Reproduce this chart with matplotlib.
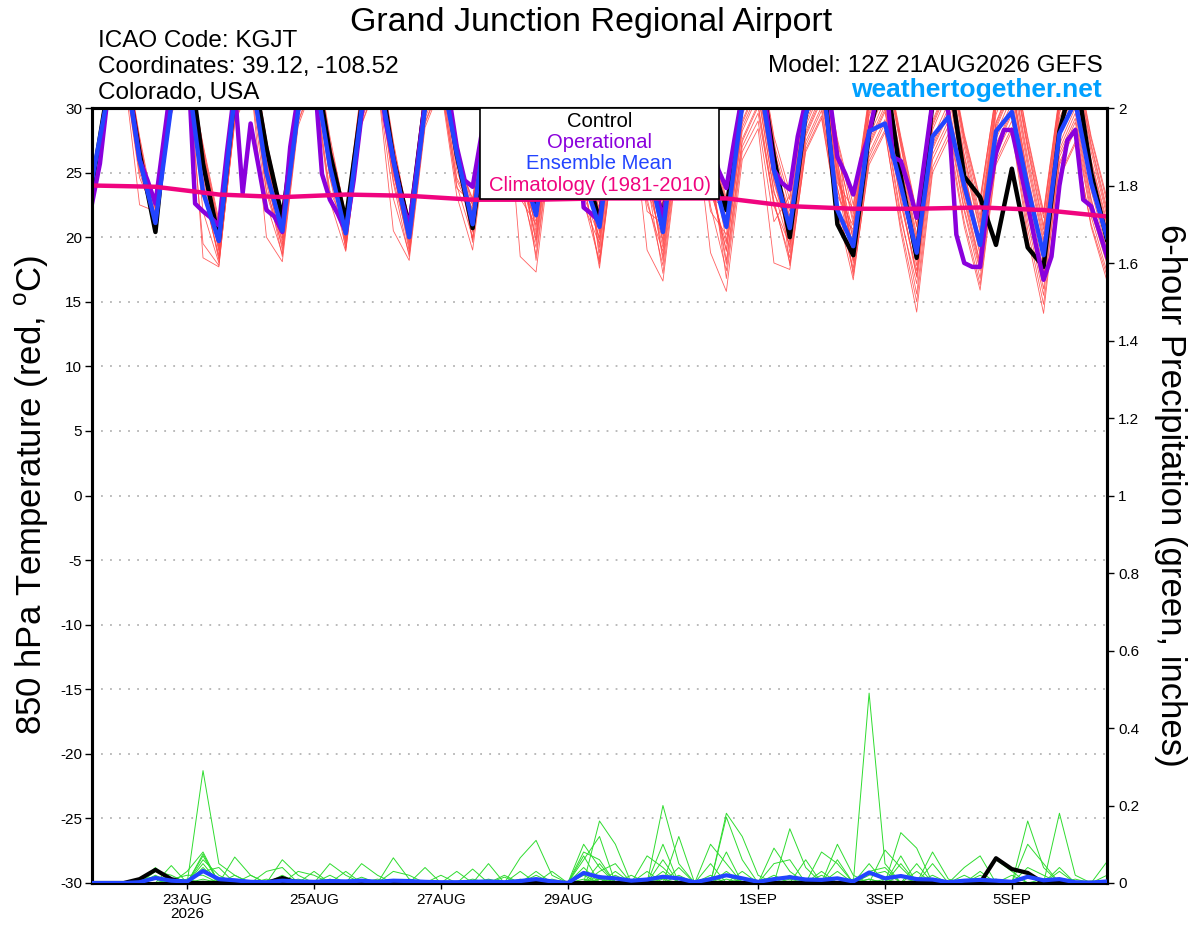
import numpy as np
import pandas as pd
import matplotlib
matplotlib.use('Agg')
import matplotlib.pyplot as plt
import matplotlib.dates as mdates
from matplotlib.patches import Rectangle
from matplotlib.ticker import FuncFormatter

plt.rcParams['font.family'] = ['Liberation Sans', 'DejaVu Sans']
plt.rcParams['mathtext.fontset'] = 'custom'
plt.rcParams['mathtext.rm'] = 'Liberation Sans'
plt.rcParams['axes.unicode_minus'] = False

# 6-hourly GEFS steps from 12Z 21AUG2026, operational run is 3-hourly
times = pd.date_range('2026-08-21 12:00', periods=65, freq='6h').to_pydatetime()
op_times = pd.date_range('2026-08-21 12:00', periods=129, freq='3h').to_pydatetime()
clim_times = times[::4]

tick_dates = ['2026-08-23', '2026-08-25', '2026-08-27', '2026-08-29',
              '2026-09-01', '2026-09-03', '2026-09-05']
tick_labels = ['23AUG\n2026', '25AUG', '27AUG', '29AUG', '1SEP', '3SEP', '5SEP']

# ensemble member 850 hPa temps (20 members), one row per day and synoptic hour
temp_12z = [
    [24.0, 24.5, 23.8, 24.6, 24.2, 24.9, 23.6, 24.3, 24.1, 24.7, 23.9, 24.4, 24.8, 24.0, 23.7, 24.5, 24.2, 24.6, 23.9, 24.3],
    [21.0, 20.5, 21.8, 22.3, 20.9, 21.4, 22.0, 20.8, 21.2, 22.5, 21.6, 20.6, 21.3, 22.1, 21.0, 20.4, 21.7, 22.2, 21.1, 20.9],
    [19.5, 18.2, 20.4, 19.0, 17.8, 21.0, 19.8, 18.6, 20.8, 19.2, 18.0, 20.1, 19.6, 17.7, 21.3, 18.9, 19.9, 20.5, 18.4, 19.3],
    [20.2, 19.0, 21.4, 20.6, 18.1, 21.8, 20.0, 19.5, 21.0, 20.8, 18.7, 20.4, 21.6, 19.8, 20.9, 18.5, 20.3, 21.2, 19.3, 20.7],
    [20.0, 19.2, 21.0, 20.6, 18.9, 21.6, 19.6, 20.3, 21.3, 19.9, 20.8, 19.4, 21.8, 20.1, 19.0, 20.5, 21.1, 19.7, 20.9, 20.2],
    [19.8, 18.5, 20.6, 21.2, 18.2, 20.3, 19.4, 21.5, 20.0, 18.9, 20.8, 19.6, 21.0, 20.2, 18.7, 19.9, 21.3, 20.5, 19.1, 20.4],
    [21.2, 20.0, 22.4, 21.0, 19.0, 22.8, 21.5, 20.6, 23.0, 21.8, 19.6, 22.0, 20.8, 21.4, 22.6, 19.8, 21.6, 20.4, 22.2, 21.1],
    [21.5, 19.8, 22.6, 17.3, 21.0, 23.2, 20.4, 18.6, 22.0, 21.8, 19.2, 22.8, 20.8, 23.5, 18.2, 21.2, 22.3, 20.1, 21.6, 19.6],
    [20.8, 17.6, 21.9, 19.5, 22.6, 18.3, 21.2, 20.0, 23.0, 18.8, 21.6, 19.2, 22.2, 20.5, 18.1, 21.0, 22.8, 19.8, 20.3, 17.9],
    [20.3, 16.6, 21.8, 19.2, 22.5, 17.8, 20.8, 18.5, 21.4, 19.8, 22.9, 17.2, 20.6, 21.6, 18.9, 22.2, 19.5, 20.1, 18.2, 21.0],
    [20.6, 15.8, 22.0, 18.9, 23.0, 17.4, 21.3, 19.5, 22.6, 18.2, 21.8, 20.2, 16.8, 22.8, 19.0, 21.0, 17.9, 20.8, 22.3, 19.7],
    [20.5, 17.5, 22.3, 19.2, 23.5, 18.4, 21.6, 20.0, 22.9, 18.0, 21.0, 19.6, 23.2, 17.8, 20.8, 22.0, 19.4, 21.4, 18.8, 20.2],
    [19.0, 16.7, 21.0, 18.2, 22.5, 17.3, 20.2, 18.8, 21.8, 17.6, 19.8, 22.2, 18.5, 20.6, 17.0, 21.4, 19.4, 18.0, 20.9, 19.9],
    [18.6, 14.2, 20.8, 17.0, 22.0, 15.6, 19.6, 17.8, 21.4, 16.4, 19.0, 21.8, 17.4, 20.2, 15.0, 20.9, 18.2, 16.9, 19.8, 18.9],
    [19.2, 15.9, 21.2, 18.0, 23.0, 16.8, 20.4, 18.6, 22.4, 17.4, 19.8, 22.8, 17.9, 21.0, 16.3, 21.6, 18.8, 17.6, 20.6, 19.5],
    [18.4, 14.1, 20.6, 16.8, 22.0, 15.5, 19.5, 17.5, 21.5, 16.0, 18.9, 21.8, 17.2, 20.2, 14.8, 20.9, 18.0, 16.6, 19.8, 18.7],
    [19.8, 16.6, 21.6, 18.4, 23.0, 17.3, 20.6, 19.0, 22.2, 17.9, 20.2, 22.7, 18.6, 21.2, 17.0, 21.9, 19.4, 18.1, 20.9, 19.6],
]
temp_18z = [
    [31.5, 32.0, 30.8, 31.8, 32.4, 31.2, 30.5, 32.1, 31.6, 31.0, 32.6, 31.3, 30.9, 31.9, 32.2, 31.4, 30.7, 31.7, 32.3, 31.1],
    [31.0, 30.2, 31.8, 32.2, 29.8, 31.4, 32.5, 30.6, 31.2, 32.0, 30.9, 29.5, 31.6, 32.3, 30.4, 31.1, 31.9, 30.8, 32.4, 30.0],
    [30.5, 29.6, 31.5, 30.2, 29.0, 32.0, 30.9, 29.8, 31.6, 30.4, 28.8, 31.2, 30.7, 29.2, 31.8, 30.1, 31.0, 31.4, 29.5, 30.6],
    [30.8, 29.4, 31.6, 30.5, 28.6, 32.1, 30.2, 29.9, 31.3, 30.7, 29.0, 31.0, 31.9, 30.0, 31.5, 28.9, 30.4, 31.7, 29.7, 30.9],
    [30.2, 29.1, 31.0, 30.6, 28.8, 31.6, 29.6, 30.4, 31.2, 29.9, 30.8, 29.3, 31.8, 30.1, 28.7, 30.5, 31.3, 29.7, 30.9, 30.3],
    [30.4, 28.9, 31.1, 31.5, 28.5, 30.8, 29.8, 31.7, 30.3, 29.2, 31.0, 30.0, 31.4, 30.6, 28.8, 30.2, 31.6, 30.9, 29.5, 30.7],
    [30.6, 29.5, 31.4, 30.3, 28.6, 31.8, 30.9, 29.9, 32.0, 31.1, 29.0, 31.3, 30.1, 30.7, 31.6, 29.3, 31.0, 29.8, 31.5, 30.4],
    [30.8, 29.0, 31.6, 27.5, 30.2, 32.0, 29.6, 28.2, 31.2, 30.9, 28.6, 31.8, 30.0, 32.2, 27.9, 30.5, 31.4, 29.4, 30.7, 28.8],
    [30.4, 27.6, 31.2, 29.2, 31.8, 28.0, 30.6, 29.8, 32.0, 28.6, 31.0, 29.0, 31.5, 30.1, 27.8, 30.7, 31.9, 29.5, 30.2, 27.4],
    [30.2, 26.8, 31.3, 28.9, 31.8, 27.6, 30.5, 28.3, 31.0, 29.6, 32.0, 27.2, 30.3, 31.2, 28.6, 31.6, 29.3, 30.0, 28.0, 30.8],
    [30.0, 26.0, 31.0, 28.2, 31.9, 27.0, 30.4, 28.8, 31.5, 27.6, 30.9, 29.5, 26.6, 31.7, 28.5, 30.6, 27.4, 30.2, 31.3, 29.0],
    [29.6, 26.8, 30.8, 28.2, 31.5, 27.4, 30.1, 28.9, 31.2, 27.1, 29.8, 28.6, 31.0, 26.6, 29.9, 30.6, 28.0, 30.4, 27.8, 29.2],
    [28.6, 25.9, 30.2, 27.4, 31.0, 26.5, 29.4, 27.8, 30.6, 26.2, 28.9, 30.8, 27.0, 29.8, 25.6, 30.4, 28.2, 27.2, 29.6, 28.4],
    [29.0, 25.0, 30.6, 27.2, 31.2, 26.0, 29.6, 27.6, 30.9, 26.4, 28.8, 31.0, 27.0, 30.2, 25.4, 30.7, 28.3, 26.8, 29.8, 28.6],
    [28.8, 25.6, 30.4, 27.6, 31.0, 26.4, 29.5, 28.0, 30.8, 26.8, 28.9, 31.2, 27.2, 30.0, 25.9, 30.6, 28.4, 27.0, 29.9, 28.6],
    [28.4, 24.8, 30.2, 26.8, 31.0, 25.6, 29.2, 27.2, 30.6, 25.8, 28.6, 30.8, 26.5, 29.8, 24.6, 30.4, 27.9, 26.2, 29.6, 28.0],
]
temp_00z = [
    [34.0, 34.5, 33.2, 34.2, 34.8, 33.8, 33.0, 34.6, 34.1, 33.5, 35.0, 33.9, 33.4, 34.3, 34.7, 33.9, 33.1, 34.4, 34.9, 33.6],
    [34.2, 33.4, 34.8, 35.0, 33.0, 34.5, 35.2, 33.8, 34.3, 34.9, 33.9, 32.8, 34.6, 35.1, 33.5, 34.1, 34.7, 33.9, 35.3, 33.2],
    [33.6, 32.9, 34.6, 33.5, 32.2, 35.0, 34.0, 33.1, 34.7, 33.6, 32.0, 34.3, 33.9, 32.5, 34.9, 33.3, 34.1, 34.5, 32.8, 33.8],
    [34.0, 32.8, 34.8, 33.7, 32.0, 35.2, 33.4, 33.1, 34.4, 33.9, 32.3, 34.1, 35.0, 33.2, 34.6, 32.2, 33.6, 34.9, 32.9, 34.0],
    [33.5, 32.4, 34.2, 33.8, 32.1, 34.8, 32.9, 33.6, 34.4, 33.0, 34.0, 32.6, 35.0, 33.3, 32.0, 33.7, 34.5, 32.8, 34.1, 33.5],
    [33.7, 32.0, 34.4, 34.8, 31.6, 34.0, 33.0, 35.0, 33.5, 32.4, 34.2, 33.2, 34.6, 33.9, 31.9, 33.4, 34.9, 34.1, 32.7, 33.9],
    [34.0, 32.8, 34.7, 33.6, 31.8, 35.1, 34.2, 33.1, 35.3, 34.3, 32.2, 34.6, 33.4, 33.9, 34.9, 32.5, 34.3, 33.0, 34.8, 33.7],
    [33.9, 32.0, 34.6, 30.2, 33.3, 35.0, 32.6, 31.0, 34.2, 33.9, 31.6, 34.8, 33.0, 35.2, 30.8, 33.5, 34.4, 32.4, 33.7, 31.8],
    [33.5, 30.3, 34.3, 32.2, 34.9, 30.8, 33.6, 32.9, 35.0, 31.5, 34.0, 32.0, 34.6, 33.2, 30.6, 33.8, 35.0, 32.5, 33.3, 30.0],
    [33.2, 29.5, 34.4, 31.8, 34.8, 30.4, 33.5, 31.2, 34.1, 32.6, 35.0, 29.9, 33.4, 34.3, 31.4, 34.7, 32.3, 33.0, 30.8, 33.9],
    [32.9, 28.4, 34.0, 31.0, 35.0, 29.6, 33.4, 31.7, 34.6, 30.3, 34.0, 32.4, 29.0, 34.8, 31.3, 33.6, 30.1, 33.2, 34.4, 31.9],
    [32.6, 29.4, 33.8, 31.1, 34.7, 30.1, 33.1, 31.8, 34.3, 29.8, 32.8, 31.5, 34.0, 29.2, 32.9, 33.6, 30.8, 33.4, 30.6, 32.2],
    [31.5, 28.3, 33.4, 30.2, 34.2, 29.1, 32.4, 30.6, 33.8, 28.8, 31.9, 34.0, 29.7, 32.8, 28.1, 33.6, 31.1, 29.9, 32.6, 31.3],
    [32.0, 27.6, 33.8, 30.0, 34.5, 28.6, 32.6, 30.4, 34.1, 29.0, 31.8, 34.2, 29.7, 33.3, 28.0, 33.9, 31.2, 29.5, 32.9, 31.6],
    [31.8, 28.2, 33.6, 30.4, 34.3, 29.0, 32.5, 30.9, 34.0, 29.5, 31.9, 34.4, 29.9, 33.1, 28.5, 33.8, 31.4, 29.7, 33.0, 31.6],
    [31.2, 27.4, 33.3, 29.6, 34.2, 28.3, 32.1, 30.0, 33.8, 28.5, 31.5, 34.0, 29.2, 32.8, 27.2, 33.6, 30.8, 28.9, 32.6, 30.9],
]
temp_06z = [
    [26.0, 27.2, 25.4, 26.8, 27.5, 25.8, 22.5, 27.0, 26.3, 25.2, 27.8, 26.1, 25.0, 26.6, 27.3, 25.6, 24.6, 26.9, 27.6, 25.5],
    [25.5, 24.0, 26.4, 25.2, 19.5, 27.0, 25.8, 23.4, 26.8, 25.0, 22.0, 26.2, 25.6, 18.4, 27.2, 24.6, 25.9, 26.6, 23.8, 25.3],
    [26.0, 24.8, 27.0, 25.5, 20.0, 27.5, 26.2, 24.5, 27.2, 25.6, 22.6, 26.8, 26.0, 23.6, 27.6, 24.2, 26.4, 27.0, 23.4, 25.8],
    [26.4, 24.6, 27.2, 26.0, 22.8, 27.8, 25.6, 25.0, 27.0, 26.2, 23.6, 26.6, 27.4, 25.4, 27.0, 23.2, 25.8, 27.3, 24.6, 26.5],
    [25.8, 24.2, 26.8, 26.5, 20.5, 27.2, 25.0, 26.2, 26.9, 25.2, 26.4, 24.4, 27.4, 25.7, 23.0, 26.0, 27.0, 24.8, 26.6, 25.9],
    [26.2, 24.0, 26.8, 27.4, 23.2, 26.4, 25.2, 27.6, 26.0, 24.4, 26.9, 25.6, 27.2, 26.4, 23.8, 25.8, 27.5, 26.6, 24.6, 26.2],
    [26.6, 25.0, 27.4, 18.5, 23.0, 27.8, 26.8, 24.6, 28.0, 27.0, 24.0, 27.2, 25.4, 26.4, 27.6, 24.4, 26.9, 25.2, 27.5, 26.0],
    [26.8, 24.4, 27.6, 22.5, 26.0, 28.0, 25.2, 23.2, 27.2, 26.8, 23.8, 27.8, 25.8, 28.2, 22.8, 26.4, 27.4, 25.0, 26.6, 24.2],
    [26.2, 19.0, 27.2, 24.6, 27.8, 23.0, 26.4, 25.4, 28.0, 23.8, 26.8, 24.4, 27.6, 25.8, 22.6, 26.6, 28.0, 25.0, 25.8, 22.0],
    [25.8, 18.8, 27.0, 24.2, 27.6, 22.4, 26.0, 23.6, 26.8, 25.0, 28.0, 22.0, 25.6, 27.0, 23.8, 27.4, 24.6, 25.4, 23.0, 26.4],
    [25.4, 18.0, 26.8, 23.6, 27.8, 22.6, 25.8, 24.2, 27.2, 22.8, 26.2, 24.8, 21.2, 27.6, 23.4, 25.6, 22.4, 25.6, 27.0, 24.4],
    [25.0, 22.0, 26.8, 23.8, 27.6, 22.6, 25.8, 24.6, 27.4, 22.4, 25.2, 24.2, 27.2, 21.8, 25.6, 26.4, 23.8, 26.0, 23.2, 24.8],
    [25.0, 20.4, 27.0, 23.2, 27.8, 21.8, 25.6, 23.8, 27.4, 21.4, 24.8, 27.6, 22.6, 26.2, 20.8, 27.2, 24.2, 22.8, 26.0, 24.6],
    [25.2, 20.8, 27.0, 23.4, 28.0, 22.0, 25.8, 24.0, 27.6, 22.2, 25.0, 27.8, 23.0, 26.4, 21.2, 27.4, 24.4, 22.8, 26.2, 24.8],
    [24.6, 20.0, 26.8, 22.8, 27.8, 21.2, 25.4, 23.4, 27.2, 21.8, 24.8, 27.6, 22.4, 26.2, 20.6, 27.0, 24.0, 22.0, 25.8, 24.2],
    [24.8, 20.8, 26.6, 23.0, 27.8, 21.6, 25.4, 23.6, 27.2, 22.0, 24.8, 27.6, 22.8, 26.0, 21.0, 27.0, 24.0, 22.4, 25.8, 24.2],
]

temp_control = [
    24.0, 31.5, 34.0, 26.5, 20.4, 32.0, 35.0, 25.7,
    19.8, 31.0, 34.0, 26.9, 21.5, 30.5, 34.0, 26.5,
    21.3, 30.2, 34.0, 26.1, 20.8, 30.5, 34.0, 26.4,
    20.7, 30.0, 34.0, 26.0, 22.0, 31.0, 34.0, 26.0,
    21.2, 31.0, 34.0, 26.0, 21.5, 31.0, 34.0, 26.0,
    22.1, 31.0, 34.0, 26.2, 20.0, 29.5, 34.0, 21.0,
    18.6, 28.0, 33.0, 24.7, 18.4, 30.5, 33.0, 24.7,
    23.1, 19.4, 25.3, 19.2, 17.7, 28.2, 33.0, 25.0,
    19.8,
]
temp_mean = [
    24.4, 31.0, 34.0, 26.0, 21.1, 30.2, 33.0, 23.5,
    19.7, 31.0, 33.0, 25.0, 20.5, 29.8, 33.0, 25.5,
    20.3, 29.9, 33.0, 26.0, 20.0, 30.0, 33.0, 26.5,
    21.0, 30.5, 33.0, 26.0, 21.7, 31.0, 33.0, 24.5,
    20.8, 30.5, 33.0, 26.0, 20.4, 30.5, 33.0, 25.5,
    20.8, 30.2, 33.0, 25.2, 20.7, 29.5, 33.0, 22.1,
    19.3, 28.2, 28.8, 24.0, 18.8, 27.8, 29.3, 24.0,
    19.4, 28.2, 29.7, 23.9, 18.6, 28.0, 30.5, 24.2,
    20.0,
]
temp_oper = [
    22.6, 25.7, 31.0, 34.0, 35.0, 30.2, 26.0, 24.4,
    22.6, 27.3, 32.0, 34.0, 35.0, 22.6, 22.0, 21.5,
    20.9, 26.5, 31.5, 23.4, 28.8, 25.5, 22.1, 21.6,
    20.4, 27.0, 31.0, 34.0, 33.0, 24.9, 22.9, 21.8,
    20.4, 24.4, 29.5, 33.0, 34.0, 29.0, 26.0, 23.0,
    20.8, 25.5, 30.5, 33.0, 34.0, 31.0, 27.0, 24.4,
    23.9, 27.5, 31.0, 33.0, 34.0, 31.0, 27.0, 24.5,
    23.5, 27.0, 31.0, 34.0, 34.0, 31.0, 22.3, 21.8,
    21.2, 26.0, 30.5, 33.0, 34.0, 31.0, 27.0, 24.0,
    21.3, 26.0, 30.5, 33.0, 34.0, 31.0, 27.5, 25.2,
    23.8, 27.5, 31.0, 34.0, 34.0, 30.0, 25.2, 24.2,
    23.7, 27.8, 30.5, 33.0, 34.0, 31.0, 26.2, 24.9,
    23.3, 26.0, 28.0, 31.0, 33.0, 26.2, 25.9, 23.9,
    21.5, 26.0, 30.5, 33.0, 29.6, 20.2, 18.0, 17.7,
    17.7, 23.0, 26.5, 28.3, 28.3, 25.5, 22.5, 19.5,
    16.7, 18.5, 24.0, 27.5, 28.3, 22.9, 22.4, 20.5,
    18.5,
]
# climatology at 12Z each day
temp_clim = [24.0, 23.9, 23.3, 23.1, 23.3, 23.2, 22.9, 22.9, 23.0,
             23.0, 23.0, 22.4, 22.2, 22.2, 22.3, 22.1, 21.6]

# 6-hour precipitation (inches)
precip_control = [
    0, 0, 0, .01, .034, .01, 0, 0,
    0, 0, 0, 0, .013, 0, 0, 0,
    0, 0, 0, 0, 0, 0, 0, 0,
    0, 0, 0, 0, 0, 0, 0, 0,
    0, 0, 0, 0, 0, 0, 0, 0,
    0, 0, 0, 0, 0, 0, 0, 0,
    0, 0, 0, 0, 0, 0, 0, 0,
    0, .064, .036, .026, 0, 0, 0, 0,
    0,
]
precip_mean = [
    0, 0, 0, .002, .013, .006, .004, .031,
    .010, .007, .003, .002, .006, .004, .003, .005,
    .004, .006, .003, .006, .005, .003, .002, .002,
    .003, .004, .002, .005, .010, .004, 0, .026,
    .015, .012, .006, .009, .016, .012, .002, .010,
    .020, .012, .003, .010, .015, .009, .008, .012,
    .004, .027, .012, .018, .010, .009, .002, .006,
    .008, .006, .003, .016, .007, .010, .002, .001,
    .004,
]
precip_members = [
    [0, 0, 0, 0, .03, .02, 0, .29, .05, .02, 0, 0, 0, 0, 0, .02,
     0, 0, 0, 0, 0, 0, 0, 0, 0, 0, 0, 0, .02, 0, 0, .08,
     .06, 0, 0, 0, .20, .05, 0, 0, .03, 0, 0, 0, .14, .04, 0, 0,
     0, .49, .05, 0, 0, 0, 0, 0, .02, 0, 0, .16, .04, 0, 0, 0, 0],
    [0, 0, 0, 0, 0, 0, .03, .08, 0, .067, .02, 0, 0, 0, 0, 0,
     0, 0, 0, .065, .01, 0, 0, 0, 0, 0, 0, 0, 0, 0, 0, 0,
     .16, .10, 0, 0, 0, 0, 0, 0, .18, .12, .02, 0, 0, 0, 0, 0,
     0, 0, 0, .13, .09, 0, 0, 0, 0, 0, 0, 0, 0, .18, .02, 0, 0],
    [0, 0, 0, 0, .04, 0, 0, .07, 0, 0, 0, 0, .06, .02, 0, 0,
     0, 0, 0, 0, 0, 0, 0, 0, 0, 0, 0, .065, .11, .02, 0, 0,
     0, 0, 0, .07, .04, 0, 0, 0, 0, 0, 0, 0, 0, 0, 0, .10,
     .02, 0, 0, 0, 0, .08, .01, 0, 0, 0, 0, 0, 0, 0, 0, 0, .055],
    [0, 0, 0, 0, 0, .045, 0, .06, .02, 0, 0, 0, 0, 0, 0, 0,
     0, .05, .02, 0, 0, 0, 0, 0, 0, .05, 0, 0, 0, 0, 0, .10,
     .04, 0, 0, 0, 0, 0, 0, .10, .05, 0, 0, .09, .03, 0, 0, 0,
     0, 0, .085, .04, 0, 0, 0, 0, 0, .06, .03, 0, 0, 0, 0, 0, 0],
    [0, 0, 0, 0, 0, 0, 0, .075, 0, 0, 0, 0, 0, 0, 0, .05,
     .02, 0, 0, 0, 0, .04, 0, 0, 0, 0, 0, 0, 0, 0, 0, .06,
     .12, 0, 0, 0, 0, .12, 0, 0, 0, 0, 0, 0, 0, 0, .08, .05,
     0, 0, 0, 0, .03, 0, 0, 0, 0, 0, 0, .10, .05, 0, 0, 0, 0],
    [0, 0, 0, 0, .02, 0, 0, .05, 0, 0, 0, .03, .04, 0, 0, 0,
     0, 0, 0, 0, 0, 0, 0, 0, .036, 0, 0, 0, 0, 0, 0, 0,
     .03, .05, 0, 0, .10, 0, 0, 0, .17, .06, 0, 0, 0, 0, 0, 0,
     0, .05, 0, .07, 0, 0, 0, .04, .07, 0, 0, 0, 0, 0, 0, 0, 0],
    [0, 0, 0, .01, .015, 0, 0, .04, 0, 0, 0, 0, 0, .03, .02, 0,
     0, 0, 0, .03, .02, 0, 0, 0, 0, 0, 0, 0, 0, .03, 0, .04,
     0, 0, 0, 0, 0, .04, 0, 0, 0, 0, 0, .05, .06, 0, 0, 0,
     0, .03, .04, 0, 0, .05, 0, 0, 0, 0, 0, 0, 0, .04, 0, 0, 0],
    [0, 0, 0, 0, 0, 0, 0, .03, .04, 0, .02, 0, 0, 0, 0, 0,
     .03, 0, 0, 0, 0, 0, .02, 0, 0, 0, .02, 0, 0, 0, 0, 0,
     .05, 0, 0, .03, 0, 0, 0, .05, 0, 0, 0, 0, 0, .06, 0, .03,
     0, 0, 0, .05, 0, 0, 0, 0, 0, 0, 0, .04, .02, 0, 0, 0, 0],
    [0, 0, 0, 0, 0, .01, .02, .02, 0, 0, 0, 0, 0, 0, .03, 0,
     0, 0, 0, 0, 0, 0, 0, .03, 0, 0, 0, .03, 0, 0, 0, .07,
     0, .03, 0, 0, .06, 0, 0, 0, .08, 0, 0, 0, .02, 0, 0, .06,
     0, 0, 0, 0, .05, 0, 0, 0, 0, 0, .02, 0, 0, .03, 0, 0, 0],
    [0, 0, 0, 0, .01, 0, 0, 0, 0, 0, 0, 0, .02, 0, 0, 0,
     0, 0, .01, 0, 0, 0, 0, 0, 0, 0, .015, 0, 0, 0, 0, 0,
     .02, 0, .02, 0, .03, 0, 0, 0, 0, .03, 0, 0, 0, 0, .03, 0,
     0, .02, .03, 0, 0, 0, 0, 0, .03, 0, 0, 0, 0, 0, 0, 0, .02],
    [0, 0, 0, 0, 0, 0, 0, 0, .01, 0, 0, 0, 0, 0, 0, 0,
     0, .015, 0, 0, 0, 0, 0, 0, 0, 0, 0, 0, .03, 0, 0, 0,
     0, .02, 0, 0, 0, 0, 0, 0, .02, 0, 0, 0, 0, 0, 0, 0,
     .01, 0, 0, 0, 0, .02, 0, 0, 0, 0, 0, .02, 0, 0, 0, 0, 0],
    [0, 0, 0, 0, 0, .01, 0, 0, 0, 0, 0, 0, 0, .01, 0, 0,
     0, 0, 0, 0, 0, 0, 0, 0, .01, 0, 0, 0, 0, 0, 0, .02,
     0, 0, 0, 0, 0, .02, 0, 0, 0, 0, 0, 0, .01, 0, 0, 0,
     0, 0, 0, .02, 0, 0, 0, 0, 0, .01, 0, 0, 0, 0, 0, 0, 0],
    [0, 0, 0, 0, 0, 0, 0, 0, 0, .02, 0, 0, 0, 0, 0, .01,
     0, 0, 0, 0, 0, 0, 0, 0, 0, 0, 0, .01, 0, 0, 0, 0,
     .01, 0, 0, 0, 0, 0, 0, .02, 0, 0, 0, 0, 0, 0, .02, 0,
     0, 0, .01, 0, 0, 0, 0, .02, 0, 0, 0, 0, 0, 0, .01, 0, 0],
    [0, 0, 0, 0, 0, 0, 0, .01, 0, 0, 0, 0, 0, 0, 0, 0,
     0, 0, 0, 0, .01, 0, 0, 0, 0, 0, 0, 0, 0, 0, 0, .01,
     0, 0, 0, 0, .01, 0, 0, 0, 0, 0, 0, .02, 0, 0, 0, 0,
     0, 0, 0, 0, .01, 0, 0, 0, 0, 0, 0, 0, .01, 0, 0, 0, 0],
    [0, 0, 0, 0, 0, 0, 0, 0, 0, 0, 0, .01, 0, 0, 0, 0,
     0, 0, 0, 0, 0, 0, 0, 0, 0, .01, 0, 0, 0, 0, 0, 0,
     0, .01, 0, 0, 0, 0, 0, 0, 0, .01, 0, 0, 0, 0, 0, 0,
     0, .01, 0, 0, 0, 0, 0, 0, .01, 0, 0, 0, 0, 0, 0, 0, 0],
    [0, 0, 0, 0, 0, 0, .01, 0, 0, 0, 0, 0, 0, 0, 0, 0,
     .005, 0, 0, 0, 0, 0, 0, 0, 0, 0, 0, 0, 0, .01, 0, 0,
     0, 0, 0, .01, 0, 0, 0, 0, 0, 0, 0, 0, 0, .01, 0, 0,
     0, 0, 0, 0, 0, .01, 0, 0, 0, 0, 0, 0, 0, 0, 0, .005, 0],
    [0, 0, 0, 0, 0, 0, 0, 0, 0, 0, 0, 0, .005, 0, 0, 0,
     0, 0, 0, 0, 0, 0, 0, 0, 0, 0, 0, 0, 0, 0, 0, 0,
     0, 0, 0, 0, 0, 0, 0, 0, .01, 0, 0, 0, 0, 0, 0, 0,
     0, 0, 0, 0, 0, 0, 0, 0, 0, 0, 0, 0, 0, 0, 0, 0, 0],
    [0, 0, 0, 0, 0, 0, 0, 0, 0, 0, 0, 0, 0, 0, 0, 0,
     0, 0, 0, 0, 0, 0, 0, 0, 0, 0, 0, 0, 0, 0, 0, 0,
     .01, 0, 0, 0, 0, 0, 0, 0, 0, 0, 0, 0, 0, 0, 0, 0,
     0, 0, 0, 0, 0, 0, 0, 0, 0, .005, 0, 0, 0, 0, 0, 0, 0],
    [0, 0, 0, 0, 0, 0, 0, 0, 0, 0, 0, 0, 0, 0, 0, 0,
     0, 0, 0, 0, 0, 0, 0, 0, 0, 0, 0, 0, 0, 0, 0, 0,
     0, 0, 0, 0, 0, 0, 0, 0, 0, 0, 0, 0, .005, 0, 0, 0,
     0, 0, 0, 0, 0, 0, 0, 0, 0, 0, 0, 0, 0, 0, 0, 0, 0],
    [0, 0, 0, 0, 0, 0, 0, .005, 0, 0, 0, 0, 0, 0, 0, 0,
     0, 0, 0, 0, 0, 0, 0, 0, 0, 0, 0, 0, 0, 0, 0, 0,
     0, 0, 0, 0, 0, 0, 0, 0, 0, 0, 0, 0, 0, 0, 0, 0,
     0, .01, 0, 0, 0, 0, 0, 0, 0, 0, 0, 0, 0, 0, 0, 0, 0],
]

# interleave the synoptic-hour tables into member time series
n_days = len(temp_18z)
members = np.zeros((len(temp_12z[0]), len(times)))
for d in range(n_days):
    members[:, 4 * d] = temp_12z[d]
    members[:, 4 * d + 1] = temp_18z[d]
    members[:, 4 * d + 2] = temp_00z[d]
    members[:, 4 * d + 3] = temp_06z[d]
members[:, 4 * n_days] = temp_12z[n_days]

W, H = 1200, 927
fig = plt.figure(figsize=(W / 100, H / 100), dpi=100)
ax = fig.add_axes([92 / W, 1 - 883 / H, (1107 - 92) / W, (883 - 108) / H])
ax2 = ax.twinx()

for row in members:
    ax.plot(times, row, color='#ff4545', lw=0.6, alpha=0.85, zorder=2)
ax.plot(times, temp_control, color='black', lw=3.2, zorder=4)
ax.plot(op_times, temp_oper, color='#8a00dc', lw=3.2, zorder=5)
ax.plot(times, temp_mean, color='#2244ff', lw=3.2, zorder=6)
ax.plot(clim_times, temp_clim, color='#f0047f', lw=3.2, zorder=7)

for row in precip_members:
    ax2.plot(times, row, color='#2fdc2f', lw=0.7, zorder=2)
ax2.plot(times, precip_control, color='black', lw=3.0, zorder=4)
ax2.plot(times, precip_mean, color='#2244ff', lw=3.0, zorder=5)

ax.set_xlim(times[0], times[-1])
ax.set_ylim(-30, 30)
ax2.set_ylim(0, 2)

ax.set_yticks(np.arange(-30, 31, 5))
ax.set_axisbelow(True)
ax.grid(axis='y', color='#b4b4b4', linestyle=(0, (1, 4)), lw=1.3)
ax2.set_yticks(np.arange(0, 2.01, 0.2))
ax2.yaxis.set_major_formatter(FuncFormatter(lambda v, p: f'{v:g}'))

ax.set_xticks(mdates.date2num(pd.to_datetime(tick_dates).to_pydatetime()))
ax.set_xticklabels(tick_labels, linespacing=1.0)

ax.tick_params(axis='y', direction='out', length=5, width=1, labelsize=11, pad=2)
ax.tick_params(axis='x', direction='out', length=4, width=1, labelsize=11, pad=3)
ax2.tick_params(axis='y', direction='out', length=5, width=1, labelsize=11, pad=3)
for a in (ax, ax2):
    for s in a.spines.values():
        s.set_linewidth(2.2)

# legend box
ax2.add_patch(Rectangle((0.3823, 0.8826), 0.2354, 0.1174, transform=ax2.transAxes,
                        facecolor='white', edgecolor='black', lw=1.2, zorder=10, clip_on=False))
legend_items = [('Control', 'black'), ('Operational', '#8a00dc'),
                ('Ensemble Mean', '#2244ff'), ('Climatology (1981-2010)', '#f0047f')]
for i, (txt, col) in enumerate(legend_items):
    ax2.text(0.5, 0.9832 - i * 0.0276, txt, color=col, fontsize=14.6, ha='center', va='center',
             transform=ax2.transAxes, zorder=11)

fig.text(591 / W, 1 - 31 / H, 'Grand Junction Regional Airport', ha='center', va='baseline', fontsize=24.5)
fig.text(98 / W, 1 - 47 / H, 'ICAO Code: KGJT', ha='left', va='baseline', fontsize=17.5)
fig.text(98 / W, 1 - 73 / H, 'Coordinates: 39.12, -108.52', ha='left', va='baseline', fontsize=17.5)
fig.text(98 / W, 1 - 99 / H, 'Colorado, USA', ha='left', va='baseline', fontsize=17.5)
fig.text(1103 / W, 1 - 72 / H, 'Model: 12Z 21AUG2026 GEFS', ha='right', va='baseline', fontsize=17.5)
fig.text(1102 / W, 1 - 97 / H, 'weathertogether.net', ha='right', va='baseline', fontsize=19,
         fontweight='bold', color='#00a0ff')

fig.text(32 / W, 1 - 495 / H, r'850 hPa Temperature (red, $^{\mathrm{o}}$C)', rotation=90,
         ha='center', va='center', fontsize=25)
fig.text(1170 / W, 1 - 495 / H, '6-hour Precipitation (green, inches)', rotation=270,
         ha='center', va='center', fontsize=25)

fig.savefig('out.png', dpi=100)
